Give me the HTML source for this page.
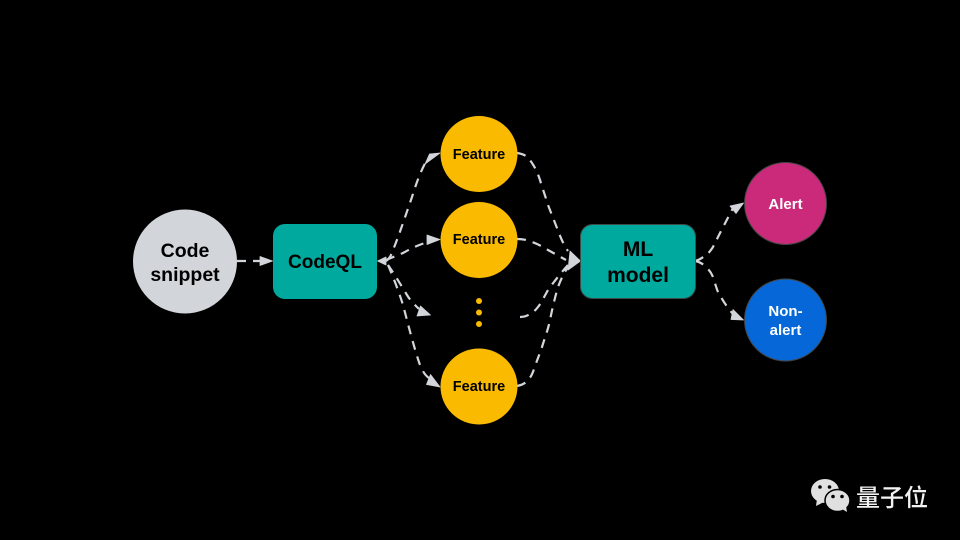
<!DOCTYPE html>
<html><head><meta charset="utf-8"><style>
html,body{margin:0;padding:0;background:#000;width:960px;height:540px;overflow:hidden}
svg{display:block}
text{font-family:"Liberation Sans",sans-serif;font-weight:bold;text-anchor:middle;fill:#000}
</style></head><body>
<svg width="960" height="540" viewBox="0 0 960 540">
<rect width="960" height="540" fill="#000"/>
<g fill="none" stroke="#d2d5da" stroke-width="2.200" stroke-dasharray="9 7">
<path d="M237 261H262"/>
<path d="M386 261C389 259 391 256 393 250C398 238 403 223 412 197C416 184 421 170 427 160"/>
<path d="M386 260L403 253C412 248 418 245 428 242"/>
<path d="M388 265C393 272 401 285 407 295C410 300 413 303 419 309"/>
<path d="M388 265C392 274 399 292 403 305C407 320 414 348 420 365C423 372 426 377 431 379"/>
<path d="M517 153C525 154 528 157 532 163C536 169 538 174 540 180C543 190 545 195 548 205L557 228C560 236 563 244 568 251"/>
<path d="M517 239C523 239 527 240 532 242C538 244 543 247 548 250L566 260"/>
<path d="M520 317C524 317 527 316 530 314C533 312 535 311 538 307C542 302 545 295 548 290C553 283 560 274 568 265"/>
<path d="M517 386C522 385 526 383 528 380C532 376 533 372 535 366C538 358 540 353 542 347C545 337 548 330 550 320C552 310 555 297 558 287C561 279 564 273 568 267"/>
<path d="M695 261C700 260 703 257 706 255C709 253 711 250 713 247C716 241 718 237 720 233L733 208"/>
<path d="M695 261C700 262 703 264 706 267C709 270 711 272 713 277C715 283 716 287 718 292C721 297 725 305 733 314"/>
</g>
<g fill="#d2d5da" stroke="#d2d5da" stroke-width="0.800" stroke-linejoin="round">
<polygon points="272.500,261 260,256.500 260,265.500"/>
<polygon points="440,153 425,164 429.500,154"/>
<polygon points="440,239.500 427,235 427,244.500"/>
<polygon points="430.500,315 420.500,306 417,316"/>
<polygon points="440,387 430.500,374.500 426.500,384.500"/>
<polygon points="580.500,261 570,251 568,270"/>
<polygon points="377.500,261 386,257 386,265"/>
<polygon points="743.500,203 730,206 736,213.500"/>
<polygon points="743.500,320 733,309.500 731,319.500"/>
</g>
<circle cx="185" cy="261.500" r="52" fill="#d2d5da"/>
<rect x="273" y="224" width="104" height="75" rx="12" fill="#00a99d"/>
<rect x="580.500" y="224.500" width="115" height="74" rx="12" fill="#00a99d" stroke="#3d4a4a"/>
<ellipse cx="479" cy="154" rx="38.500" ry="38" fill="#f9ba00"/>
<ellipse cx="479" cy="240" rx="38.500" ry="38" fill="#f9ba00"/>
<ellipse cx="479" cy="386.500" rx="38.500" ry="38" fill="#f9ba00"/>
<circle cx="479" cy="301" r="3" fill="#f9ba00"/>
<circle cx="479" cy="312.500" r="3" fill="#f9ba00"/>
<circle cx="479" cy="324" r="3" fill="#f9ba00"/>
<circle cx="785.500" cy="203.500" r="41" fill="#cb2a7b" stroke="#444"/>
<circle cx="785.500" cy="320" r="41" fill="#0567d8" stroke="#444"/>
<text x="185" y="257" font-size="19.500">Code</text>
<text x="185" y="281" font-size="19.500">snippet</text>
<text x="325" y="268" font-size="19">CodeQL</text>
<text x="638" y="256" font-size="21">ML</text>
<text x="638" y="282" font-size="21">model</text>
<text x="479" y="159" font-size="14.500">Feature</text>
<text x="479" y="244" font-size="14.500">Feature</text>
<text x="479" y="391" font-size="14.500">Feature</text>
<text x="785.500" y="209" font-size="15" style="fill:#fff">Alert</text>
<text x="785.500" y="316" font-size="15" style="fill:#fff">Non-</text>
<text x="785.500" y="335" font-size="15" style="fill:#fff">alert</text>
<g fill="#e0e0e0">
<ellipse cx="825" cy="491" rx="14" ry="12"/>
<polygon points="817,499 816,506 824,502"/>
</g>
<g fill="#000"><circle cx="820" cy="487" r="1.800"/><circle cx="829.500" cy="487" r="1.800"/></g>
<ellipse cx="837.500" cy="500.500" rx="12.500" ry="11" fill="#e0e0e0" stroke="#000" stroke-width="1.500"/>
<polygon points="842,509 847,512 846,506" fill="#e0e0e0"/>
<g fill="#000"><circle cx="833" cy="496.500" r="1.800"/><circle cx="842" cy="496.500" r="1.800"/></g>
<text x="892" y="506" font-size="24" style="font-family:'Noto Sans CJK SC','WenQuanYi Zen Hei',sans-serif;font-weight:500;fill:#f2f2f2">量子位</text>
</svg>
</body></html>
